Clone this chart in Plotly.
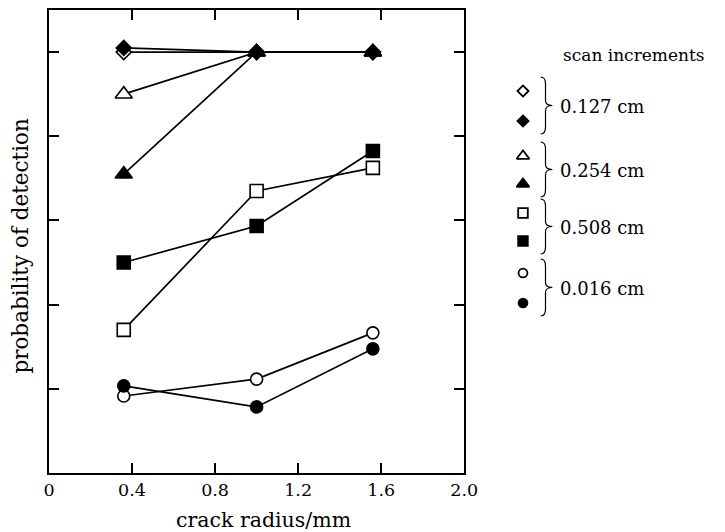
import plotly.graph_objects as go

# ---- data ----
crack_radius = [0.36, 1.0, 1.56]
series_names = ["0.127 cm open", "0.127 cm filled", "0.254 cm open", "0.254 cm filled",
                "0.508 cm open", "0.508 cm filled", "0.016 cm open", "0.016 cm filled"]
pod_0127_open = [1.0, 1.0, 1.0]
pod_0127_filled = [1.01, 1.0, 1.0]
pod_0254_open = [0.90, 1.0, 1.0]
pod_0254_filled = [0.71, 1.0, 1.0]
pod_0508_open = [0.34, 0.67, 0.725]
pod_0508_filled = [0.50, 0.587, 0.765]
pod_0016_open = [0.183, 0.223, 0.333]
pod_0016_filled = [0.207, 0.157, 0.295]
x_tickvals = [0, 0.4, 0.8, 1.2, 1.6, 2.0]
x_ticktext = ["0", "0.4", "0.8", "1.2", "1.6", "2.0"]
y_tickvals = [0.2, 0.4, 0.6, 0.8, 1.0]
legend_groups = ["0.127 cm", "0.254 cm", "0.508 cm", "0.016 cm"]

FONT = "DejaVu Serif"
W, H = 725, 532
plot_left, plot_right, plot_top, plot_bottom = 49, 473, 10, 473   # page pixels
L = plot_left
T = plot_top
B = H - plot_bottom
R = 0
paper_w = W - plot_left
dom_split = (plot_right - plot_left) / paper_w
ph = plot_bottom - plot_top


def px(xp):
    return (xp - plot_left) / paper_w


def py(yp):
    return (plot_bottom - yp) / ph


styles = [
    ("diamond-open", 11.5), ("diamond", 11.5),
    ("triangle-up-open", 15), ("triangle-up", 15),
    ("square-open", 13), ("square", 13),
    ("circle-open", 12), ("circle", 12),
]
all_series = [pod_0127_open, pod_0127_filled, pod_0254_open, pod_0254_filled,
              pod_0508_open, pod_0508_filled, pod_0016_open, pod_0016_filled]

fig = go.Figure()
for name, ys, (sym, sz) in zip(series_names, all_series, styles):
    filled = not sym.endswith("open")
    fig.add_trace(go.Scatter(
        x=crack_radius, y=ys, mode="lines+markers", name=name,
        line=dict(color="black", width=1.7),
        marker=dict(symbol=sym.replace("-open", ""), size=sz,
                    color="black" if filled else "white",
                    line=dict(color="black", width=1.6)),
        showlegend=False, xaxis="x", yaxis="y"))

# ---- custom legend (overlay axes in page-pixel units) ----
legend_rows_y = [91, 121, 156, 184, 213, 241, 273, 303]
legend_x = 533
for (sym, sz), yy in zip(styles, legend_rows_y):
    filled = not sym.endswith("open")
    fig.add_trace(go.Scatter(
        x=[legend_x], y=[yy], mode="markers", showlegend=False, hoverinfo="skip",
        marker=dict(symbol=sym.replace("-open", ""), size=sz * 0.74,
                    color="black" if filled else "white",
                    line=dict(color="black", width=1.8)),
        xaxis="x2", yaxis="y2"))

annotations = [
    dict(text="crack radius/mm", xref="paper", yref="paper",
         x=px(268), y=py(520), xanchor="center", yanchor="middle",
         showarrow=False, font=dict(family=FONT, size=20.5, color="black")),
    dict(text="probability of detection", xref="paper", yref="paper",
         x=px(19), y=py(246), textangle=-90,
         xanchor="center", yanchor="middle", showarrow=False,
         font=dict(family=FONT, size=21.5, color="black")),
    dict(text="scan increments", xref="x2", yref="y2", x=572, y=55,
         xanchor="left", yanchor="middle", showarrow=False,
         font=dict(family=FONT, size=17, color="black")),
]
shapes = []
for i, g in enumerate(legend_groups):
    y0 = legend_rows_y[2 * i] - 14
    y1 = legend_rows_y[2 * i + 1] + 13
    ym = (y0 + y1) / 2
    annotations.append(dict(text=g, xref="x2", yref="y2", x=569, y=ym + 1,
                            xanchor="left", yanchor="middle", showarrow=False,
                            font=dict(family=FONT, size=18, color="black")))
    xa, xb, xc = 551, 556, 563
    path = (f"M {xa} {y0} Q {xb} {y0} {xb} {y0 + 7} L {xb} {ym - 5} "
            f"Q {xb} {ym} {xc} {ym} Q {xb} {ym} {xb} {ym + 5} "
            f"L {xb} {y1 - 7} Q {xb} {y1} {xa} {y1}")
    shapes.append(dict(type="path", path=path, xref="x2", yref="y2",
                       line=dict(color="black", width=1.2)))

axis_common = dict(showgrid=False, zeroline=False, showline=True, linecolor="black",
                   linewidth=2, mirror="ticks", ticks="inside", ticklen=10,
                   tickwidth=2, tickcolor="black")

fig.update_layout(
    width=W, height=H, margin=dict(l=L, r=R, t=T, b=B, pad=0),
    paper_bgcolor="white", plot_bgcolor="white", showlegend=False,
    font=dict(family=FONT, color="black"),
    xaxis=dict(domain=[0, dom_split], range=[0, 2.0], tickvals=x_tickvals,
               ticktext=x_ticktext, tickfont=dict(family=FONT, size=17.5, color="black"),
               **axis_common),
    yaxis=dict(domain=[0, 1], range=[0, 1.1], tickvals=y_tickvals,
               showticklabels=False, **axis_common),
    xaxis2=dict(domain=[dom_split, 1], range=[plot_right, W], visible=False,
                anchor="y2"),
    yaxis2=dict(domain=[0, 1], range=[plot_bottom, plot_top], visible=False, anchor="x2"),
    annotations=annotations, shapes=shapes,
)

fig.write_html("out.html",
               config={"displayModeBar": False, "staticPlot": True},
               post_script="document.body.style.margin='0';"
                           "document.body.style.overflow='hidden';")
